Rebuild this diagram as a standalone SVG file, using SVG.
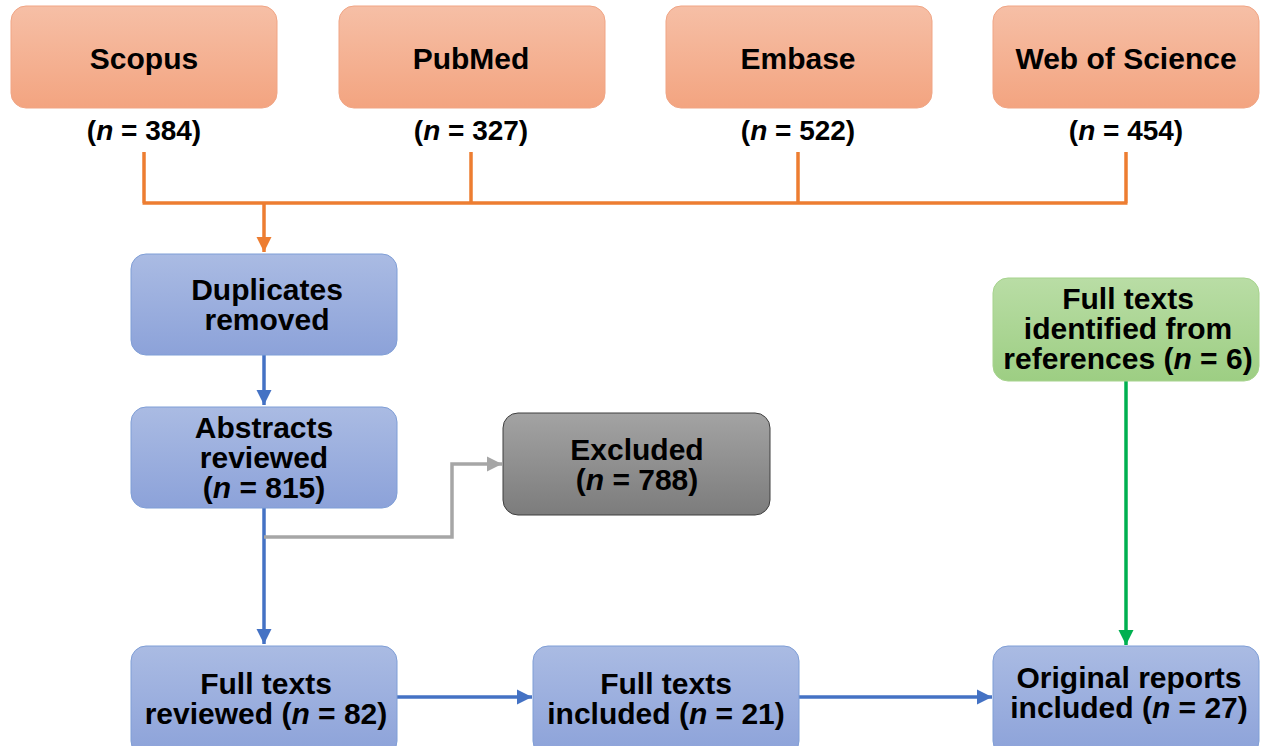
<svg xmlns="http://www.w3.org/2000/svg" width="1267" height="746" viewBox="0 0 1267 746">
<defs>
<linearGradient id="gOr" x1="0" y1="0" x2="0" y2="1"><stop offset="0" stop-color="#F6BFA6"/><stop offset="1" stop-color="#F3A480"/></linearGradient>
<linearGradient id="gBl" x1="0" y1="0" x2="0" y2="1"><stop offset="0" stop-color="#AABBE3"/><stop offset="1" stop-color="#8CA2D9"/></linearGradient>
<linearGradient id="gGr" x1="0" y1="0" x2="0" y2="1"><stop offset="0" stop-color="#B9DDA5"/><stop offset="1" stop-color="#9DCE83"/></linearGradient>
<linearGradient id="gGy" x1="0" y1="0" x2="0" y2="1"><stop offset="0" stop-color="#A3A3A3"/><stop offset="1" stop-color="#7C7C7C"/></linearGradient>
<marker id="aOr" viewBox="0 0 10 10" refX="10" refY="5" markerWidth="4.3" markerHeight="4.3" orient="auto" markerUnits="strokeWidth"><path d="M0,0 L10,5 L0,10 z" fill="#ED7D31"/></marker>
<marker id="aBl" viewBox="0 0 10 10" refX="10" refY="5" markerWidth="4.3" markerHeight="4.3" orient="auto" markerUnits="strokeWidth"><path d="M0,0 L10,5 L0,10 z" fill="#4472C4"/></marker>
<marker id="aGr" viewBox="0 0 10 10" refX="10" refY="5" markerWidth="4.3" markerHeight="4.3" orient="auto" markerUnits="strokeWidth"><path d="M0,0 L10,5 L0,10 z" fill="#00B050"/></marker>
<marker id="aGy" viewBox="0 0 10 10" refX="10" refY="5" markerWidth="4.3" markerHeight="4.3" orient="auto" markerUnits="strokeWidth"><path d="M0,0 L10,5 L0,10 z" fill="#A6A6A6"/></marker>
</defs>
<style>
text{font-family:"Liberation Sans",Arial,sans-serif;font-weight:bold;font-size:30px;fill:#000;text-anchor:middle}
text.n{font-size:28px}
.or{fill:url(#gOr);stroke:#F0A585;stroke-width:1}
.bl{fill:url(#gBl);stroke:#7F9ED6;stroke-width:1}
.gr{fill:url(#gGr);stroke:#A6D38D;stroke-width:1}
.gy{fill:url(#gGy);stroke:#3F3F3F;stroke-width:1}
.c{fill:none;stroke-width:3.5}
</style>
<rect width="1267" height="746" fill="#fff"/>
<g id="connectors">
<path class="c" stroke="#ED7D31" d="M144,152 V203 M471,152 V203 M798,152 V203 M1126,152 V203 M142.5,203 H1127.5"/>
<path class="c" stroke="#ED7D31" d="M264,203 V252" marker-end="url(#aOr)"/>
<path class="c" stroke="#4472C4" d="M264,355 V405" marker-end="url(#aBl)"/>
<path class="c" stroke="#4472C4" d="M264,508 V644" marker-end="url(#aBl)"/>
<path class="c" stroke="#A6A6A6" d="M264,537 H452 V464 H502" marker-end="url(#aGy)"/>
<path class="c" stroke="#4472C4" d="M397,697 H532" marker-end="url(#aBl)"/>
<path class="c" stroke="#4472C4" d="M799,697 H992" marker-end="url(#aBl)"/>
<path class="c" stroke="#00B050" d="M1126,381 V645" marker-end="url(#aGr)"/>
</g>
<g id="scopus"><rect class="or" x="11" y="6" width="266" height="102" rx="15"/><text x="144" y="69">Scopus</text><text class="n" x="144" y="140">(<tspan font-style="italic">n</tspan> = 384)</text></g>
<g id="pubmed"><rect class="or" x="339" y="6" width="266" height="102" rx="15"/><text x="471" y="69">PubMed</text><text class="n" x="471" y="140">(<tspan font-style="italic">n</tspan> = 327)</text></g>
<g id="embase"><rect class="or" x="666" y="6" width="266" height="102" rx="15"/><text x="798" y="69">Embase</text><text class="n" x="798" y="140">(<tspan font-style="italic">n</tspan> = 522)</text></g>
<g id="wos"><rect class="or" x="993" y="6" width="266" height="102" rx="15"/><text x="1126" y="69">Web of Science</text><text class="n" x="1126" y="140">(<tspan font-style="italic">n</tspan> = 454)</text></g>
<g id="duplicates"><rect class="bl" x="131" y="254" width="266" height="101" rx="15"/><text x="267" y="300">Duplicates</text><text x="267" y="330">removed</text></g>
<g id="abstracts"><rect class="bl" x="131" y="407" width="266" height="101" rx="15"/><text x="264" y="438">Abstracts</text><text x="264" y="468">reviewed</text><text x="264" y="498">(<tspan font-style="italic">n</tspan> = 815)</text></g>
<g id="excluded"><rect class="gy" x="503" y="413" width="267" height="102" rx="15"/><text x="637" y="460">Excluded</text><text x="637" y="490">(<tspan font-style="italic">n</tspan> = 788)</text></g>
<g id="references"><rect class="gr" x="993" y="278" width="266" height="103" rx="15"/><text x="1128" y="309">Full texts</text><text x="1128" y="339">identified from</text><text x="1128" y="369">references (<tspan font-style="italic">n</tspan> = 6)</text></g>
<g id="ft-reviewed"><rect class="bl" x="131" y="646" width="266" height="110" rx="15"/><text x="266" y="694">Full texts</text><text x="266" y="724">reviewed (<tspan font-style="italic">n</tspan> = 82)</text></g>
<g id="ft-included"><rect class="bl" x="533" y="646" width="266" height="110" rx="15"/><text x="666" y="694">Full texts</text><text x="666" y="724">included (<tspan font-style="italic">n</tspan> = 21)</text></g>
<g id="original"><rect class="bl" x="993" y="646" width="266" height="110" rx="15"/><text x="1129" y="688">Original reports</text><text x="1129" y="718">included (<tspan font-style="italic">n</tspan> = 27)</text></g>
</svg>
